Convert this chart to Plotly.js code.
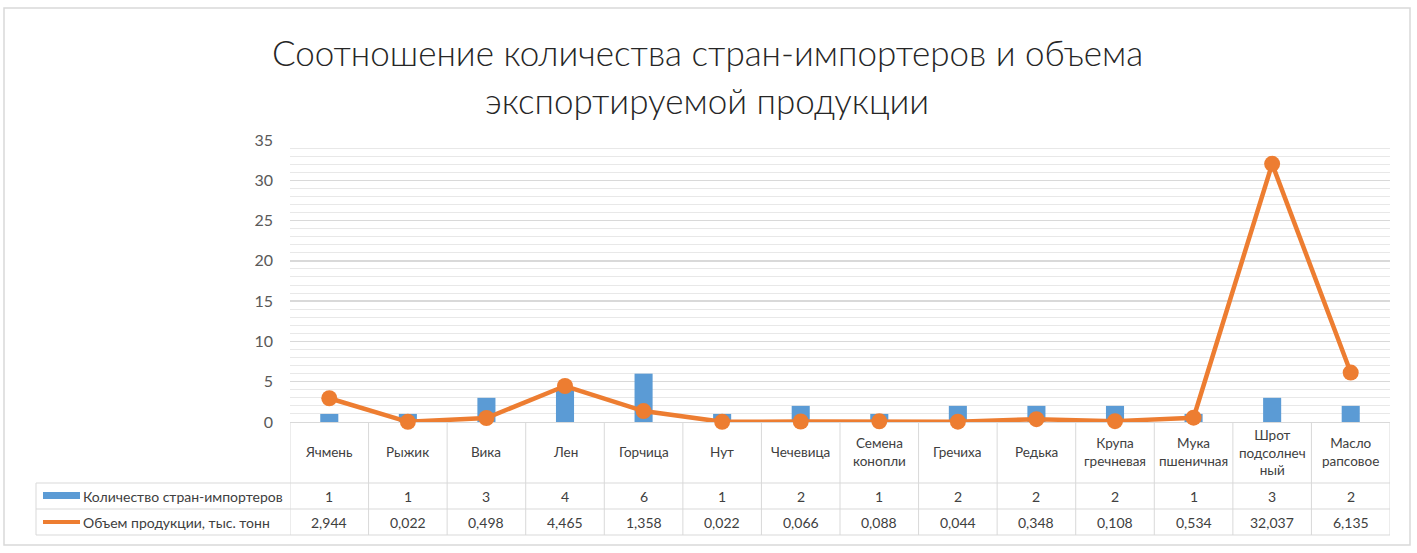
<!DOCTYPE html>
<html>
<head>
<meta charset="utf-8">
<script src="https://cdn.plot.ly/plotly-3.0.1.min.js"></script>
<style>
  html, body { margin: 0; padding: 0; background: #fff; }
  #graph { width: 1417px; height: 553px; }
</style>
</head>
<body>
<div id="graph"></div>
<script>
// данные с диаграммы
let categories = ['Ячмень', 'Рыжик', 'Вика', 'Лен', 'Горчица', 'Нут', 'Чечевица',
  'Семена<br>конопли', 'Гречиха', 'Редька', 'Крупа<br>гречневая', 'Мука<br>пшеничная',
  'Шрот<br>подсолнеч<br>ный', 'Масло<br>рапсовое'];
let importers = [1, 1, 3, 4, 6, 1, 2, 1, 2, 2, 2, 1, 3, 2];
let volume = [2.944, 0.022, 0.498, 4.465, 1.358, 0.022, 0.066, 0.088, 0.044, 0.348, 0.108, 0.534, 32.037, 6.135];
let seriesNames = ['Количество стран-импортеров', 'Объем продукции, тыс. тонн'];
let titleLines = ['Соотношение количества стран-импортеров и объема', 'экспортируемой продукции'];

let blue = '#5B9BD5';
let orange = '#ED7D31';
let grid = '#d9d9d9';
let txt = '#404040';
let font = 'Lato, "Open Sans", sans-serif';

// пиксели -> paper (область построения 290..1390 x 140..422)
let L = 290, R = 1390, T = 140, B = 422;
let px = function (p) { return (p - L) / (R - L); };
let py = function (p) { return (B - p) / (B - T); };

var bars = {
  x: categories,
  y: importers,
  type: 'bar',
  name: seriesNames[0],
  width: 0.23,
  marker: { color: blue },
  hoverinfo: 'none'
};

var line = {
  x: categories,
  y: volume,
  type: 'scatter',
  mode: 'lines+markers',
  name: seriesNames[1],
  line: { color: orange, width: 4.5 },
  marker: { color: orange, size: 16 },
  hoverinfo: 'none',
  cliponaxis: false
};

var shapes = [];
var annotations = [];

// рамка
shapes.push({ type: 'rect', xref: 'paper', yref: 'paper',
  x0: px(4), x1: px(1410), y0: py(545), y1: py(8),
  line: { color: grid, width: 1.5 } });

// заголовок
annotations.push({ xref: 'paper', yref: 'paper', x: px(707), y: py(52),
  xanchor: 'center', yanchor: 'middle', text: titleLines[0], showarrow: false,
  font: { size: 35, color: '#262626', family: font, weight: 300 } });
annotations.push({ xref: 'paper', yref: 'paper', x: px(707), y: py(100),
  xanchor: 'center', yanchor: 'middle', text: titleLines[1], showarrow: false,
  font: { size: 35, color: '#262626', family: font, weight: 300 } });

// таблица данных: вертикальные линии
for (let i = 0; i <= categories.length; i++) {
  shapes.push({ type: 'line', xref: 'x', yref: 'paper',
    x0: i - 0.5, x1: i - 0.5, y0: py(422), y1: py(535),
    line: { color: grid, width: 1 } });
}
shapes.push({ type: 'line', xref: 'paper', yref: 'paper',
  x0: px(36), x1: px(36), y0: py(483), y1: py(535), line: { color: grid, width: 1 } });
[483, 509, 535].forEach(function (y) {
  shapes.push({ type: 'line', xref: 'paper', yref: 'paper',
    x0: px(36), x1: 1, y0: py(y), y1: py(y), line: { color: grid, width: 1 } });
});

// ключи легенды в таблице
shapes.push({ type: 'rect', xref: 'paper', yref: 'paper',
  x0: px(43), x1: px(80), y0: py(499), y1: py(492),
  fillcolor: blue, line: { width: 0 } });
shapes.push({ type: 'line', xref: 'paper', yref: 'paper',
  x0: px(43), x1: px(80), y0: py(522), y1: py(522),
  line: { color: orange, width: 4 } });

annotations.push({ xref: 'paper', yref: 'paper', x: px(81), y: py(496),
  xanchor: 'left', yanchor: 'middle', text: seriesNames[0], showarrow: false,
  font: { size: 14, color: txt, family: font } });
annotations.push({ xref: 'paper', yref: 'paper', x: px(81), y: py(522),
  xanchor: 'left', yanchor: 'middle', text: seriesNames[1], showarrow: false,
  font: { size: 14, color: txt, family: font } });

for (let i = 0; i < categories.length; i++) {
  annotations.push({ xref: 'x', yref: 'paper', x: categories[i], y: py(452),
    yanchor: 'middle', text: categories[i], showarrow: false,
    font: { size: 13.5, color: txt, family: font } });
  annotations.push({ xref: 'x', yref: 'paper', x: categories[i], y: py(496),
    yanchor: 'middle', text: String(importers[i]), showarrow: false,
    font: { size: 14, color: txt, family: font } });
  annotations.push({ xref: 'x', yref: 'paper', x: categories[i], y: py(522),
    yanchor: 'middle', text: volume[i].toFixed(3).replace('.', ','), showarrow: false,
    font: { size: 14, color: txt, family: font } });
}

var layout = {
  width: 1417,
  height: 553,
  margin: { l: L, r: 1417 - R, t: T, b: 553 - B, pad: 0 },
  paper_bgcolor: '#fff',
  plot_bgcolor: '#fff',
  showlegend: false,
  font: { family: font, color: txt },
  xaxis: {
    type: 'category',
    range: [-0.5, categories.length - 0.5],
    showticklabels: false,
    showgrid: false,
    zeroline: false,
    showline: false,
    ticks: ''
  },
  yaxis: {
    range: [0, 35],
    dtick: 5,
    tick0: 0,
    ticks: '',
    ticklabelstandoff: 16,
    tickfont: { size: 16, color: '#595959', family: font },
    showgrid: true,
    gridcolor: grid,
    gridwidth: 1.5,
    zeroline: true,
    zerolinecolor: grid,
    zerolinewidth: 1,
    showline: false,
    minor: { dtick: 1, showgrid: true, gridcolor: '#e8e8e8', gridwidth: 1 }
  },
  shapes: shapes,
  annotations: annotations,
  hovermode: false
};

Plotly.newPlot('graph', [bars, line], layout, { staticPlot: true, displayModeBar: false });
</script>
</body>
</html>
